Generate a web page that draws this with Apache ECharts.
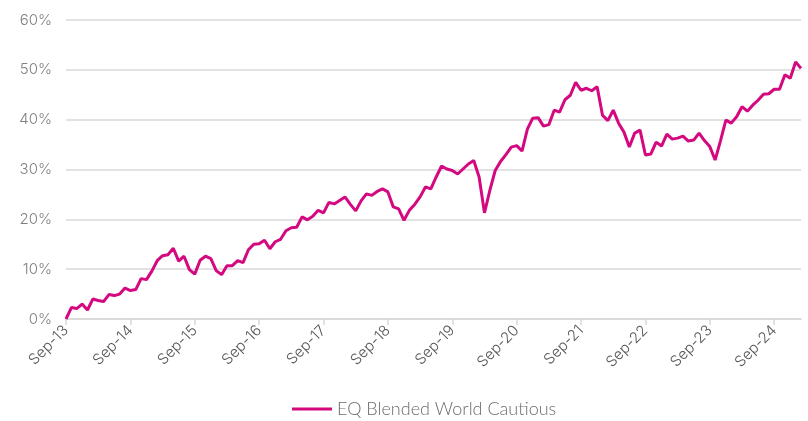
<!DOCTYPE html>
<html>
<head>
<meta charset="utf-8">
<script src="https://cdn.jsdelivr.net/npm/echarts@6/dist/echarts.min.js"></script>
<style>
  html, body { margin: 0; padding: 0; background: #fff; }
  #main { width: 808px; height: 421px; }
</style>
</head>
<body>
<div id="main"></div>
<script>
var seriesName = 'EQ Blended World Cautious';
var monthNames = ['Sep', 'Oct', 'Nov', 'Dec', 'Jan', 'Feb', 'Mar', 'Apr', 'May', 'Jun', 'Jul', 'Aug'];
var yTicks = [0, 10, 20, 30, 40, 50, 60];

// cumulative return (%), monthly from Sep-13 to Feb-25
var values = [
  0, 2.3, 2.1, 3.0, 1.8, 4.0, 3.7, 3.5, 4.9, 4.7, 5.0, 6.2,
  5.7, 5.9, 8.1, 7.9, 9.6, 11.7, 12.7, 12.9, 14.2, 11.6, 12.6, 9.9,
  9.0, 11.8, 12.6, 12.1, 9.7, 8.9, 10.7, 10.7, 11.7, 11.3, 13.9, 15.0,
  15.1, 15.8, 14.1, 15.5, 16.0, 17.7, 18.3, 18.4, 20.5, 19.9, 20.6, 21.8,
  21.3, 23.4, 23.1, 23.8, 24.5, 23.0, 21.7, 23.7, 25.1, 24.8, 25.6, 26.1,
  25.5, 22.5, 22.1, 19.8, 21.8, 23.0, 24.5, 26.5, 26.1, 28.5, 30.7, 30.1,
  29.8, 29.1, 30.1, 31.1, 31.8, 28.5, 21.3, 25.8, 29.8, 31.6, 33.0, 34.5,
  34.8, 33.7, 38.1, 40.3, 40.4, 38.7, 39.0, 41.9, 41.5, 44.0, 44.9, 47.5,
  45.9, 46.3, 45.8, 46.6, 40.9, 39.8, 41.9, 39.3, 37.5, 34.5, 37.3, 37.9,
  32.9, 33.1, 35.5, 34.7, 37.1, 36.1, 36.3, 36.7, 35.7, 35.9, 37.3, 35.8,
  34.6, 31.9, 35.8, 39.9, 39.3, 40.6, 42.6, 41.7, 42.9, 43.9, 45.1, 45.2,
  46.1, 46.1, 49.0, 48.3, 51.6, 50.3
];

var dates = [];
for (var i = 0; i < values.length; i++) {
  var yr = 13 + Math.floor((i + 8) / 12);
  dates.push(monthNames[i % 12] + '-' + yr);
}

var chartDom = document.getElementById('main');
var myChart = echarts.init(chartDom);
var option;

option = {
  animation: false,
  textStyle: { fontFamily: 'Inter', fontWeight: 300 },
  grid: {
    left: 66,
    right: 7,
    top: 20,
    bottom: 102
  },
  legend: {
    top: 400,
    left: 292,
    padding: 0,
    itemWidth: 40,
    itemHeight: 3,
    itemGap: 5,
    icon: 'rect',
    textStyle: { color: '#6b6b6b', fontSize: 18, fontFamily: 'Lato', fontWeight: 300 },
    data: [seriesName]
  },
  xAxis: {
    type: 'category',
    boundaryGap: false,
    data: dates,
    axisLine: { lineStyle: { color: '#d9d9d9', width: 1.5 } },
    axisTick: { interval: 11, length: 6, lineStyle: { color: '#d9d9d9', width: 1.5 } },
    axisLabel: {
      interval: 11,
      rotate: 45,
      margin: 9,
      color: '#555',
      fontSize: 15,
      fontFamily: 'Inter',
      fontWeight: 300
    }
  },
  yAxis: {
    type: 'value',
    min: yTicks[0],
    max: yTicks[yTicks.length - 1],
    interval: 10,
    axisLine: { show: false },
    axisTick: { show: false },
    splitLine: { lineStyle: { color: '#d9d9d9', width: 1.5 } },
    axisLabel: {
      formatter: '{value}%',
      margin: 14,
      color: '#808080',
      fontSize: 15,
      fontFamily: 'Inter',
      fontWeight: 300
    }
  },
  series: [
    {
      name: seriesName,
      type: 'line',
      symbol: 'none',
      lineStyle: { color: '#d4087f', width: 3 },
      itemStyle: { color: '#d4087f' },
      data: values
    }
  ]
};

option && myChart.setOption(option);
</script>
</body>
</html>
